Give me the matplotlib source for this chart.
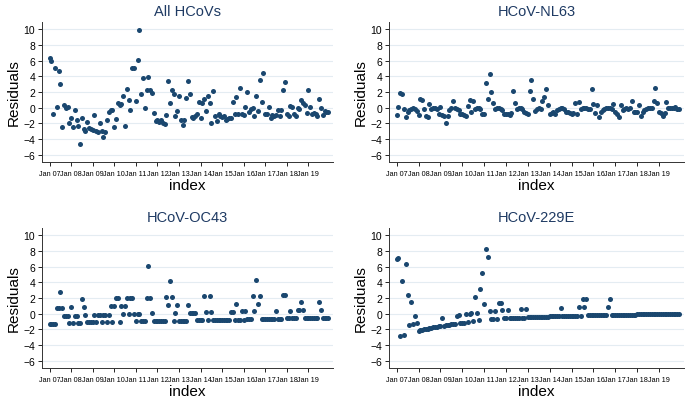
import numpy as np
import matplotlib
matplotlib.use("Agg")
import matplotlib.pyplot as plt

plt.rcParams['font.family'] = ['Liberation Sans', 'DejaVu Sans']

# monthly residuals Jan 2007 - Dec 2019
all_hcov = [
    6.3, 5.9, -0.75, 5.0, 0.1, 4.7, 3.0, -2.4, 0.35, 0.0, 0.1, -1.95,
    -1.25, -2.45, -0.25, -1.5, -2.35, -4.6, -1.35, -2.7, -3.0, -1.8, -2.55, -2.65,
    -2.8, -0.95, -2.9, -3.05, -2.0, -3.0, -3.75, -3.1, -1.55, -0.55, -0.3, -0.25,
    -2.45, -1.45, 0.55, 0.35, 0.45, 1.5, -2.3, 2.4, 0.95, -0.3, 5.05, 5.05,
    0.9, 6.05, 9.85, 1.7, 3.8, 0.0, 2.2, 3.9, 2.3, 1.85, -0.65, -1.7,
    -1.6, -1.8, -1.5, -1.95, -2.05, -0.95, 3.4, 0.55, 2.3, 1.7, -1.0, -0.45,
    1.55, -1.55, -2.2, -1.6, 1.25, 3.35, 1.75, -1.15, -1.25, -1.05, -0.85, 0.75,
    -1.25, 0.65, 1.1, -0.4, 1.5, 0.55, -1.95, 2.15, -1.05, -1.75, -0.85, -1.05,
    -1.2, -1.1, -1.6, -1.4, -1.25, -1.3, 0.75, -0.75, 1.35, -0.8, 2.5, -0.75,
    -0.95, 0.1, 1.95, -0.55, -0.2, -0.05, -1.1, 1.5, -0.45, 3.5, 0.7, 4.45,
    -0.85, -0.85, 0.1, -1.25, -0.95, -1.0, -0.95, -0.35, -1.1, -0.35, 2.25, 3.3,
    -0.85, -1.1, 0.25, 0.15, -0.85, -1.1, -0.05, -0.15, 1.0, 0.6, 0.4, -0.65,
    2.3, 0.05, -0.75, -0.7, -0.8, -1.0, 1.05, 0.0, -0.9, -0.4, -0.6, -0.55,
]

nl63 = [
    -0.95, 0.05, 1.9, 1.8, -0.2, -1.2, -0.55, -0.25, -0.1, 0.0, -0.15, -0.4,
    -0.9, 1.05, 1.0, -0.15, -1.05, -1.15, 0.5, -0.1, 0.0, -0.05, -0.2, -0.85,
    0.1, -0.95, -1.05, -1.95, -1.05, -0.35, 0.0, 0.85, -0.05, -0.15, -0.25, -0.85,
    -0.85, -0.95, -1.0, 0.25, 1.0, -0.5, 0.9, -0.2, 0.0, -0.05, -0.2, -0.75,
    -0.75, 3.15, 1.05, 4.3, 2.05, 0.55, -0.15, -0.05, -0.05, -0.15, -0.3, -0.75,
    -0.75, -0.8, -0.9, -0.65, 2.1, 0.6, -0.1, 0.0, -0.05, -0.2, -0.5, -0.7,
    -0.75, 2.15, 3.5, 1.15, -0.4, -0.15, 0.0, -0.1, 0.9, 1.4, 2.35, 0.3,
    -0.8, -0.7, -0.55, -0.8, -0.3, -0.1, 0.0, 0.0, -0.15, -0.5, -0.6, -0.7,
    -0.75, -0.7, 0.65, -0.75, 0.7, -0.1, -0.05, 0.0, -0.05, -0.2, -0.15, 2.4,
    0.5, -0.65, 0.35, -1.2, -0.55, -0.25, -0.1, 0.0, -0.05, 0.0, -0.1, 0.45,
    -0.6, -0.75, -1.2, 0.35, -0.3, -0.1, 0.0, -0.1, 0.0, 0.85, -0.55, -0.55,
    -0.55, 0.4, -1.1, -0.5, -0.25, -0.1, 0.0, 0.0, 0.0, 0.9, 2.5, 0.55,
    -0.5, -0.65, -1.05, -0.7, 0.75, 0.0, 0.0, 0.0, 0.0, 0.05, -0.1, -0.1,
]

oc43 = [
    -1.3, -1.3, -1.3, -1.3, 0.75, 0.75, 2.75, 0.75, -0.25, -0.25, -0.25, -1.2,
    0.8, -1.2, -0.25, -0.25, -1.2, -1.2, 1.85, 0.85, -0.2, -1.1, -1.1, -1.1,
    -1.1, -0.15, -1.1, -0.15, -0.15, -1.1, -0.1, -0.1, -1.1, -0.1, 0.95, -1.05,
    0.95, 1.95, 1.95, -1.05, 0.95, 0.0, 0.95, 2.0, 0.0, 2.0, 2.0, 0.0,
    -0.95, 0.0, 0.0, -0.95, -0.95, -0.95, 2.0, 6.05, 2.0, 0.05, -0.95, -0.95,
    -0.95, -0.95, -0.95, -0.95, -0.95, 2.1, 1.1, 4.1, 2.1, -0.9, 0.15, 1.1,
    -0.9, -0.9, -0.9, -0.9, -0.9, 1.15, 0.15, 0.15, 0.15, 0.15, -0.85, -0.85,
    -0.85, -0.85, 2.2, 0.2, -0.85, 2.2, 0.2, -0.8, -0.8, -0.8, -0.8, -0.8,
    -0.8, -0.8, -0.8, -0.8, -0.8, 0.25, 0.25, -0.75, 1.3, -0.75, -0.75, 0.3,
    -0.75, 0.3, -0.7, -0.7, -0.7, 2.3, 0.3, 4.3, 1.3, 2.3, -0.65, -0.65,
    -0.65, -0.65, -0.65, -0.65, -0.65, -0.65, 0.35, -0.65, -0.65, -0.65, 2.4, 2.4,
    -0.6, -0.6, 0.4, -0.6, -0.6, -0.6, 0.45, 0.45, 1.45, 0.45, -0.55, -0.55,
    -0.55, -0.55, -0.55, -0.55, -0.55, -0.55, 1.5, 0.45, -0.5, -0.5, -0.5, -0.5,
]

e229 = [
    6.95, 7.05, -2.85, 4.2, -2.75, 6.35, 2.4, -1.45, 1.55, -1.35, -0.3, -1.2,
    -2.15, -2.1, -2.05, -2.0, -1.95, -1.9, -1.85, -1.8, -1.75, -1.7, -1.65, -1.6,
    -1.55, -0.5, -1.5, -1.45, -1.42, -1.38, -1.35, -1.3, -1.27, -0.25, -0.22, -1.2,
    -1.15, -1.12, -0.05, -1.08, 0.0, 0.05, -0.9, 2.1, 0.15, -0.85, 3.2, 5.2,
    1.25, 8.2, 7.25, 0.3, -0.7, -0.7, 0.35, -0.68, 1.35, 1.35, 0.45, -0.6,
    -0.58, 0.45, -0.56, -0.55, -0.54, -0.53, -0.52, -0.51, 0.55, -0.5, -0.49, 0.6,
    -0.47, -0.46, -0.45, -0.44, -0.43, -0.42, -0.41, -0.4, -0.39, -0.38, -0.37, -0.36,
    -0.35, -0.34, -0.33, -0.32, -0.32, -0.31, 0.75, -0.3, -0.29, -0.29, -0.28, -0.27,
    -0.26, -0.26, -0.25, -0.25, 0.8, -0.24, 1.85, 0.8, 1.85, -0.22, -0.22, -0.21,
    -0.21, -0.2, -0.2, -0.19, -0.19, -0.18, -0.18, -0.18, 0.85, 1.9, -0.16, -0.16,
    -0.15, -0.15, -0.14, -0.14, -0.13, -0.13, -0.12, -0.12, -0.11, -0.11, -0.1, -0.1,
    -0.09, -0.09, -0.08, -0.08, -0.07, -0.07, -0.07, -0.06, -0.06, -0.06, -0.05, -0.05,
    -0.05, -0.04, -0.04, -0.04, -0.03, -0.03, -0.03, -0.03, -0.02, -0.02, -0.02, -0.02,
]

titles = ["All HCoVs", "HCoV-NL63", "HCoV-OC43", "HCoV-229E"]
year_labels = ["Jan %02d" % y for y in range(7, 20)]
y_ticks = [10, 8, 6, 4, 2, 0, -2, -4, -6]

navy = "#1a476f"
W, H = 692, 402
fig = plt.figure(figsize=(W / 100, H / 100), dpi=100)

# axes boxes in pixels: left, top, right, bottom
boxes = [(42, 23, 333, 163), (389, 23, 684, 163),
         (42, 229, 333, 369), (389, 229, 684, 369)]

for series, title, (l, t, r, b) in zip([all_hcov, nl63, oc43, e229], titles, boxes):
    ax = fig.add_axes([l / W, 1 - b / H, (r - l) / W, (b - t) / H])
    idx = np.arange(len(series))
    ax.scatter(idx, series, s=13, color=navy, linewidths=0, zorder=3)
    ax.set_xlim(-4.2, 157.7)
    ax.set_ylim(-6.9, 10.9)
    ax.set_yticks(y_ticks)
    ax.set_xticks(np.arange(0, 145, 12))
    ax.set_xticklabels(year_labels, fontsize=5.2)
    ax.tick_params(axis='y', labelsize=7.5, length=3, width=0.6, pad=2)
    ax.tick_params(axis='x', length=3, width=0.6, pad=2.5)
    ax.grid(axis='y', color='#e4ecf2', linewidth=0.8, zorder=0)
    ax.set_axisbelow(True)
    for s in ['top', 'right']:
        ax.spines[s].set_visible(False)
    for s in ['left', 'bottom']:
        ax.spines[s].set_color('#333333')
        ax.spines[s].set_linewidth(0.7)
    ax.set_title(title, fontsize=10.5, color='#1e3a63', pad=5)
    ax.set_ylabel("Residuals", fontsize=11, labelpad=2)
    ax.set_xlabel("index", fontsize=11, labelpad=1)

fig.savefig("out.png", dpi=100)
